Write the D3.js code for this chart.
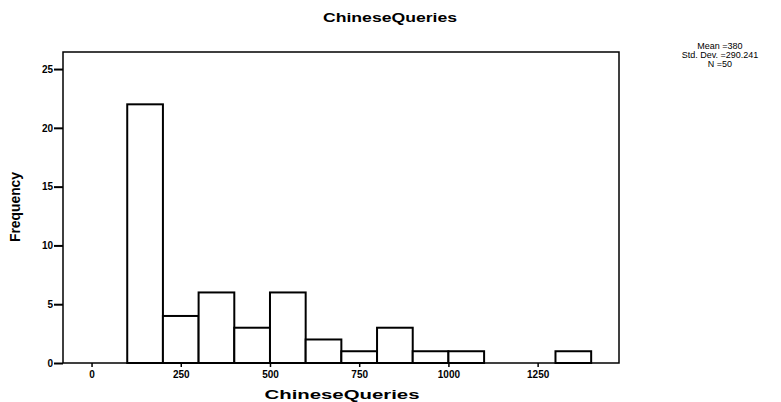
<!DOCTYPE html>
<html>
<head>
<meta charset="utf-8">
<script src="https://cdn.jsdelivr.net/npm/d3@7"></script>
<style>
  body { margin: 0; background: #fff; }
  svg { display: block; }
  text { font-family: "Liberation Sans", Arial, sans-serif; fill: #000; }
</style>
</head>
<body>
<svg id="chart" width="781" height="402"></svg>
<script>
// histogram bins (lower edge, upper edge) and counts
let binStart = [100, 200, 300, 400, 500, 600, 700, 800, 900, 1000, 1100, 1200, 1300];
let binEnd = [200, 300, 400, 500, 600, 700, 800, 900, 1000, 1100, 1200, 1300, 1400];
let counts = [22, 4, 6, 3, 6, 2, 1, 3, 1, 1, 0, 0, 1];
let xTicks = [0, 250, 500, 750, 1000, 1250];
let yTicks = [0, 5, 10, 15, 20, 25];
let stats = ["Mean =380", "Std. Dev. =290.241", "N =50"];
let title = "ChineseQueries";
let xLabel = "ChineseQueries";
let yLabel = "Frequency";

let svg = d3.select("#chart");
let mLeft = 63, mRight = 619, mTop = 52, mBottom = 363;

let xScale = d3.scaleLinear().domain([-80, 1478]).range([mLeft, mRight]);
let yScale = d3.scaleLinear().domain([0, 26.45]).range([mBottom, mTop]);

// plot frame
svg.append("rect")
  .attr("x", mLeft).attr("y", mTop)
  .attr("width", mRight - mLeft).attr("height", mBottom - mTop)
  .attr("fill", "none").attr("stroke", "#000").attr("stroke-width", 1.5);

// bars (empty bins draw nothing)
let bins = counts.map(function (c, i) {
  return { x0: binStart[i], x1: binEnd[i], n: c };
}).filter(function (b) { return b.n > 0; });

svg.selectAll(".bar")
  .data(bins)
  .enter()
  .append("rect")
  .attr("class", "bar")
  .attr("x", function (d) { return xScale(d.x0); })
  .attr("y", function (d) { return yScale(d.n); })
  .attr("width", function (d) { return xScale(d.x1) - xScale(d.x0); })
  .attr("height", function (d) { return yScale(0) - yScale(d.n); })
  .attr("fill", "#fff")
  .attr("stroke", "#000")
  .attr("stroke-width", 2);

// y axis
let y_axis = d3.axisLeft(yScale).tickValues(yTicks).tickSize(9).tickPadding(1);
let gy = svg.append("g").attr("transform", `translate(${mLeft},0)`).call(y_axis);
gy.select(".domain").remove();
gy.selectAll("line").attr("stroke-width", 2);
gy.selectAll("text")
  .style("font-family", "'Liberation Sans', Arial, sans-serif")
  .style("font-size", "10px").style("font-weight", "bold");

// x axis
let x_axis = d3.axisBottom(xScale).tickValues(xTicks).tickFormat(d3.format("d"))
  .tickSize(4).tickPadding(4);
let gx = svg.append("g").attr("transform", `translate(0,${mBottom})`).call(x_axis);
gx.select(".domain").remove();
gx.selectAll("line").attr("stroke-width", 1.5);
gx.selectAll("text")
  .style("font-family", "'Liberation Sans', Arial, sans-serif")
  .style("font-size", "10px").style("font-weight", "bold");

// title
svg.append("text")
  .attr("x", 390).attr("y", 22)
  .attr("text-anchor", "middle")
  .attr("textLength", 134).attr("lengthAdjust", "spacingAndGlyphs")
  .style("font-size", "13px").style("font-weight", "bold")
  .text(title);

// x label
svg.append("text")
  .attr("x", 342).attr("y", 399)
  .attr("text-anchor", "middle")
  .attr("textLength", 155).attr("lengthAdjust", "spacingAndGlyphs")
  .style("font-size", "13px").style("font-weight", "bold")
  .text(xLabel);

// y label
svg.append("text")
  .attr("transform", `translate(20,207) rotate(-90)`)
  .attr("text-anchor", "middle")
  .attr("textLength", 70).attr("lengthAdjust", "spacingAndGlyphs")
  .style("font-size", "14px").style("font-weight", "bold")
  .text(yLabel);

// stats text
stats.forEach(function (s, i) {
  svg.append("text")
    .attr("x", 720).attr("y", 49 + i * 9)
    .attr("text-anchor", "middle")
    .style("font-size", "9px")
    .text(s);
});
</script>
</body>
</html>
